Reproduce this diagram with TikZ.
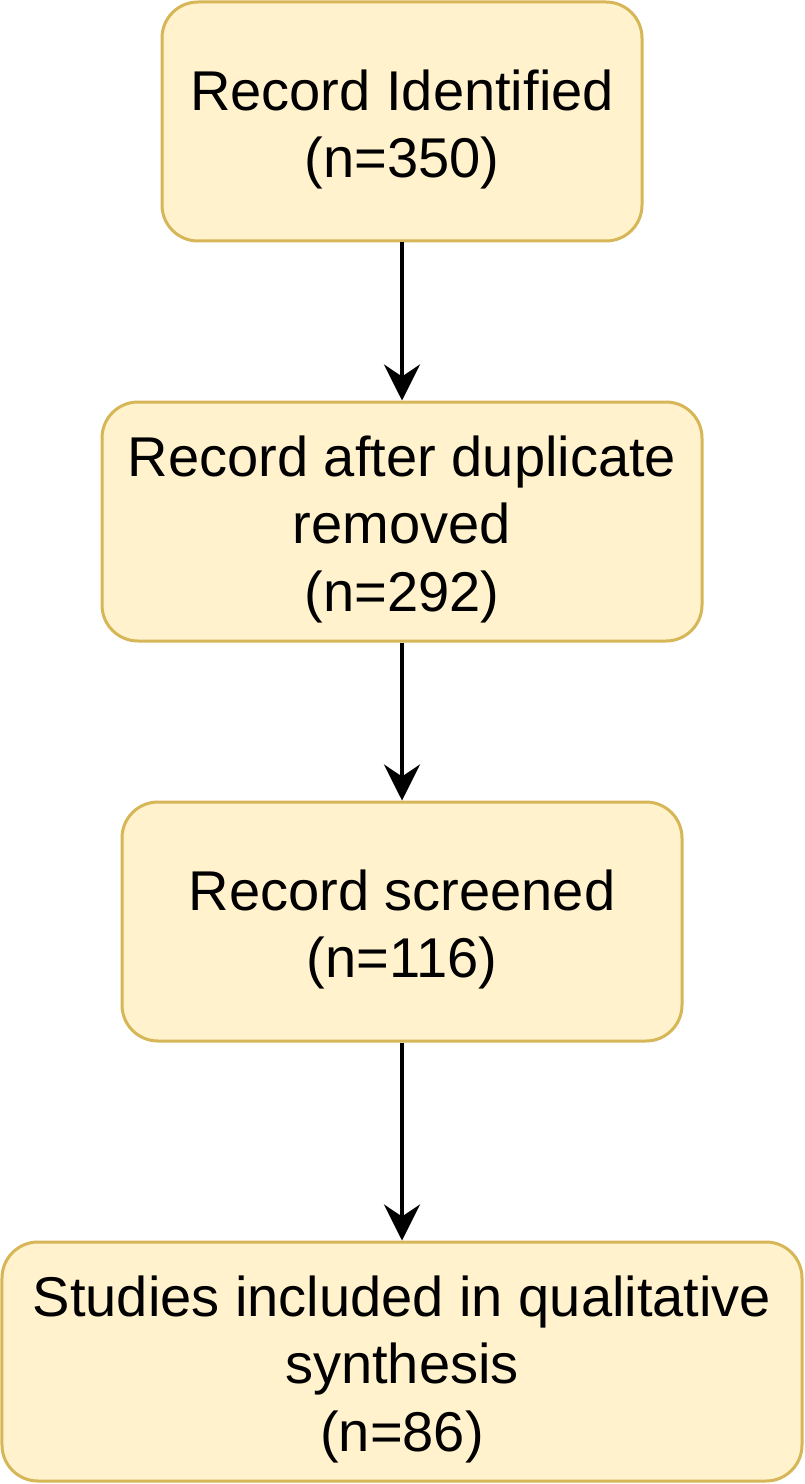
\documentclass[tikz,border=0pt]{standalone}
\usepackage{fontspec}
\setmainfont{Liberation Sans}
\definecolor{boxfill}{HTML}{FFF2CC}
\definecolor{boxline}{HTML}{D6B656}
\usetikzlibrary{arrows.meta,positioning}
\newcommand{\toplead}{\rule{0pt}{32pt}}

\begin{document}
\begin{tikzpicture}[
    node distance=3.16cm,
    box/.style={rectangle, rounded corners=0.72cm, draw=boxline, line width=0.06cm, fill=boxfill,
                minimum height=4.78cm, align=center, font=\fontsize{31.9}{38.3}\selectfont},
    flow/.style={-{Stealth[length=0.72cm,width=0.72cm,inset=0.24cm]}, line width=0.08cm, black}
]
    \useasboundingbox (0,0) rectangle (16.08,-29.68);

    \node[box, minimum width=9.6cm] (ident) at (8.04,-2.43) {\toplead Record Identified\\(n=350)};
    \node[box, minimum width=12cm, below=of ident] (dupl) {\toplead Record after duplicate\\removed\\(n=292)};
    \node[box, minimum width=11.2cm, below=of dupl] (screen) {\toplead Record screened\\(n=116)};
    \node[box, minimum width=16cm, below=3.96cm of screen] (incl) {\toplead Studies included in qualitative\\synthesis\\(n=86)};

    \draw[flow] (ident) -- (dupl);
    \draw[flow] (dupl) -- (screen);
    \draw[flow] (screen) -- (incl);
\end{tikzpicture}
\end{document}
